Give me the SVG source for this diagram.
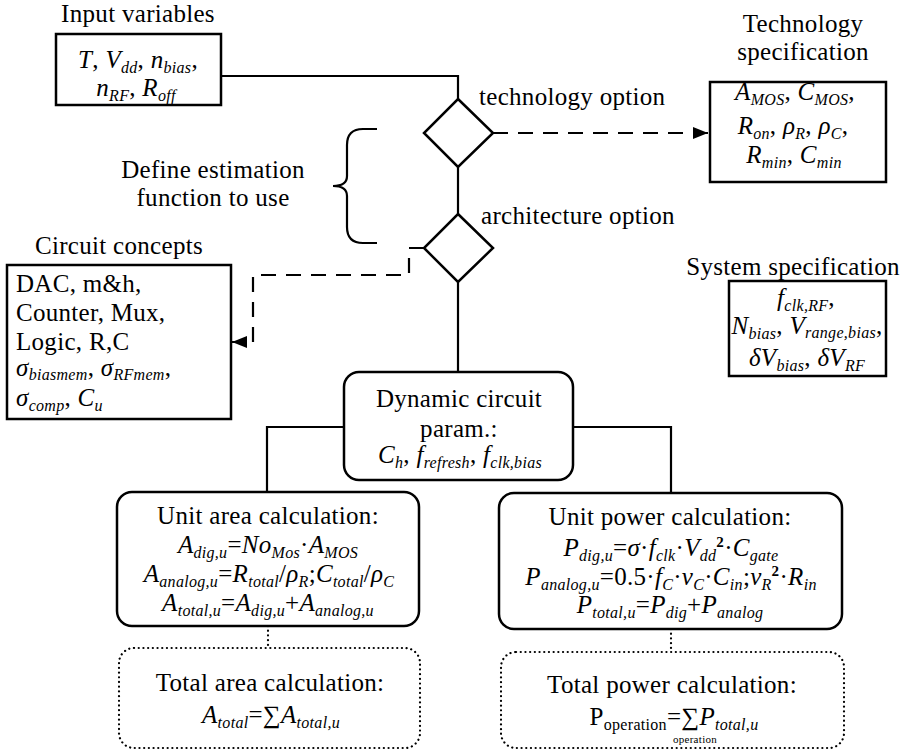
<svg xmlns="http://www.w3.org/2000/svg" width="902" height="751" viewBox="0 0 902 751" font-family="'Times New Roman', 'Liberation Serif', 'DejaVu Serif', 'Noto Serif', serif">
  <defs>
    <style>
      text { font-size: 25px; fill: #000; letter-spacing: 0.3px; }
      .c { text-anchor: middle; }
      .i { font-style: italic; }
      .s { font-size: 16px; }
      .b { font-weight: bold; font-size: 15px; }
      .box { fill: #fff; stroke: #000; stroke-width: 2.5; }
      .dot { fill: none; stroke: #000; stroke-width: 2.2; stroke-dasharray: 0.1 4.6; stroke-linecap: round; }
      .ln { fill: none; stroke: #000; stroke-width: 2.2; }
      .dash { fill: none; stroke: #000; stroke-width: 2.2; stroke-dasharray: 15 10; }
    </style>
    <marker id="arrow" markerUnits="userSpaceOnUse" markerWidth="16" markerHeight="14" refX="15" refY="7" orient="auto">
      <path d="M0,1 L15,7 L0,13 Z" fill="#000"/>
    </marker>
  </defs>

  <!-- connectors -->
  <g id="connectors">
    <polyline class="ln" points="221,76 458,76 458,99"/>
    <line class="ln" x1="458" y1="167" x2="458" y2="214"/>
    <line class="ln" x1="458" y1="282" x2="458" y2="372"/>
    <polyline class="ln" points="344,427 267,427 267,492"/>
    <polyline class="ln" points="573,427 671,427 671,493"/>
    <line class="dash" x1="493" y1="133" x2="708" y2="133" marker-end="url(#arrow)"/>
    <polyline class="dash" points="424,248 409,248 409,275 253,275 253,342 232,342" marker-end="url(#arrow)"/>
    <line class="dot" x1="268" y1="626" x2="268" y2="648"/>
    <line class="dot" x1="671" y1="629" x2="671" y2="652"/>
    <!-- curly brace grouping both option diamonds -->
    <path class="ln" d="M377,129 H363 Q347,129 347,145 V176 Q347,186 333,186 Q347,186 347,196 V227 Q347,243 363,243 H377"/>
  </g>

  <!-- input variables -->
  <g id="input">
    <text class="c" x="138" y="22">Input variables</text>
    <rect class="box" x="56" y="34" width="165" height="71"/>
    <text class="c" x="138" y="68"><tspan class="i">T</tspan>, <tspan class="i">V</tspan><tspan class="i s" dy="5">dd</tspan><tspan dy="-5">, </tspan><tspan class="i">n</tspan><tspan class="i s" dy="5">bias</tspan><tspan dy="-5">,</tspan></text>
    <text class="c" x="136" y="96"><tspan class="i">n</tspan><tspan class="i s" dy="5">RF</tspan><tspan dy="-5">, </tspan><tspan class="i">R</tspan><tspan class="i s" dy="5">off</tspan></text>
  </g>

  <!-- technology option decision -->
  <g id="tech-option">
    <polygon class="box" points="458,99 493,133 458,167 424,133"/>
    <text x="479" y="105">technology option</text>
  </g>

  <!-- architecture option decision -->
  <g id="arch-option">
    <polygon class="box" points="458,214 493,248 458,282 424,248"/>
    <text x="481" y="224">architecture option</text>
  </g>

  <!-- brace label -->
  <g id="estimation">
    <text class="c" x="213" y="178">Define estimation</text>
    <text class="c" x="213" y="206">function to use</text>
  </g>

  <!-- technology specification -->
  <g id="tech-spec">
    <text class="c" x="803" y="32">Technology</text>
    <text class="c" x="803" y="60">specification</text>
    <rect class="box" x="710" y="82" width="176" height="100"/>
    <text class="c" x="795" y="100"><tspan class="i">A</tspan><tspan class="i s" dy="5">MOS</tspan><tspan dy="-5">, </tspan><tspan class="i">C</tspan><tspan class="i s" dy="5">MOS</tspan><tspan dy="-5">,</tspan></text>
    <text class="c" x="793" y="134"><tspan class="i">R</tspan><tspan class="i s" dy="5">on</tspan><tspan dy="-5">, </tspan><tspan class="i">ρ</tspan><tspan class="i s" dy="5">R</tspan><tspan dy="-5">, </tspan><tspan class="i">ρ</tspan><tspan class="i s" dy="5">C</tspan><tspan dy="-5">,</tspan></text>
    <text class="c" x="794" y="163"><tspan class="i">R</tspan><tspan class="i s" dy="5">min</tspan><tspan dy="-5">, </tspan><tspan class="i">C</tspan><tspan class="i s" dy="5">min</tspan></text>
  </g>

  <!-- system specification -->
  <g id="system-spec">
    <text class="c" x="793" y="275">System specification</text>
    <rect class="box" x="729" y="281" width="157" height="95"/>
    <text class="c" x="806" y="306"><tspan class="i">f</tspan><tspan class="i s" dy="5">clk,RF</tspan><tspan dy="-5">,</tspan></text>
    <text class="c" x="807" y="334"><tspan class="i">N</tspan><tspan class="i s" dy="5">bias</tspan><tspan dy="-5">, </tspan><tspan class="i">V</tspan><tspan class="i s" dy="4">range,bias</tspan><tspan dy="-4">,</tspan></text>
    <text class="c" x="807" y="366"><tspan class="i">δV</tspan><tspan class="i s" dy="5">bias</tspan><tspan dy="-5">, </tspan><tspan class="i">δV</tspan><tspan class="i s" dy="5">RF</tspan></text>
  </g>

  <!-- circuit concepts -->
  <g id="circuit-concepts">
    <text class="c" x="119" y="254">Circuit concepts</text>
    <rect class="box" x="7" y="265" width="224" height="154"/>
    <text x="16" y="292">DAC, m&amp;h,</text>
    <text x="16" y="321">Counter, Mux,</text>
    <text x="16" y="350">Logic, R,C</text>
    <text x="16" y="376"><tspan class="i">σ</tspan><tspan class="i s" dy="4">biasmem</tspan><tspan dy="-4">, </tspan><tspan class="i">σ</tspan><tspan class="i s" dy="4">RFmem</tspan><tspan dy="-4">,</tspan></text>
    <text x="16" y="406"><tspan class="i">σ</tspan><tspan class="i s" dy="5">comp</tspan><tspan dy="-5">, </tspan><tspan class="i">C</tspan><tspan class="i s" dy="5">u</tspan></text>
  </g>

  <!-- dynamic circuit parameters -->
  <g id="dynamic">
    <rect class="box" x="344" y="372" width="229" height="108" rx="15"/>
    <text class="c" x="459" y="407">Dynamic circuit</text>
    <text class="c" x="459" y="437">param.:</text>
    <text class="c" x="460" y="463"><tspan class="i">C</tspan><tspan class="i s" dy="5">h</tspan><tspan dy="-5">, </tspan><tspan class="i">f</tspan><tspan class="i s" dy="5">refresh</tspan><tspan dy="-5">, </tspan><tspan class="i">f</tspan><tspan class="i s" dy="5">clk,bias</tspan></text>
  </g>

  <!-- unit area calculation -->
  <g id="unit-area">
    <rect class="box" x="117" y="492" width="302" height="134" rx="15"/>
    <text class="c" x="268" y="524">Unit area calculation:</text>
    <text class="c" x="268" y="553"><tspan class="i">A</tspan><tspan class="i s" dy="5">dig,u</tspan><tspan dy="-5">=</tspan><tspan class="i">No</tspan><tspan class="i s" dy="5">Mos</tspan><tspan dy="-5">·</tspan><tspan class="i">A</tspan><tspan class="i s" dy="5">MOS</tspan></text>
    <text class="c" x="269" y="582"><tspan class="i">A</tspan><tspan class="i s" dy="5">analog,u</tspan><tspan dy="-5">=</tspan><tspan class="i">R</tspan><tspan class="i s" dy="5">total</tspan><tspan dy="-5">/</tspan><tspan class="i">ρ</tspan><tspan class="i s" dy="5">R</tspan><tspan dy="-5">;</tspan><tspan class="i">C</tspan><tspan class="i s" dy="5">total</tspan><tspan dy="-5">/</tspan><tspan class="i">ρ</tspan><tspan class="i s" dy="5">C</tspan></text>
    <text class="c" x="268" y="611"><tspan class="i">A</tspan><tspan class="i s" dy="5">total,u</tspan><tspan dy="-5">=</tspan><tspan class="i">A</tspan><tspan class="i s" dy="5">dig,u</tspan><tspan dy="-5">+</tspan><tspan class="i">A</tspan><tspan class="i s" dy="5">analog,u</tspan></text>
  </g>

  <!-- unit power calculation -->
  <g id="unit-power">
    <rect class="box" x="499" y="493" width="343" height="136" rx="15"/>
    <text class="c" x="670" y="525">Unit power calculation:</text>
    <text class="c" x="671" y="556"><tspan class="i">P</tspan><tspan class="i s" dy="5">dig,u</tspan><tspan dy="-5">=</tspan><tspan class="i">σ</tspan>·<tspan class="i">f</tspan><tspan class="i s" dy="5">clk</tspan><tspan dy="-5">·</tspan><tspan class="i">V</tspan><tspan class="i s" dy="5">dd</tspan><tspan class="b" dy="-14">2</tspan><tspan dy="9">·</tspan><tspan class="i">C</tspan><tspan class="i s" dy="5">gate</tspan></text>
    <text class="c" x="671" y="585"><tspan class="i">P</tspan><tspan class="i s" dy="5">analog,u</tspan><tspan dy="-5">=0.5·</tspan><tspan class="i">f</tspan><tspan class="i s" dy="5">C</tspan><tspan dy="-5">·</tspan><tspan class="i">v</tspan><tspan class="i s" dy="5">C</tspan><tspan dy="-5">·</tspan><tspan class="i">C</tspan><tspan class="i s" dy="5">in</tspan><tspan dy="-5">;</tspan><tspan class="i">v</tspan><tspan class="i s" dy="5">R</tspan><tspan class="b" dy="-14">2</tspan><tspan dy="9">·</tspan><tspan class="i">R</tspan><tspan class="i s" dy="5">in</tspan></text>
    <text class="c" x="670" y="613"><tspan class="i">P</tspan><tspan class="i s" dy="5">total,u</tspan><tspan dy="-5">=</tspan><tspan class="i">P</tspan><tspan class="i s" dy="5">dig</tspan><tspan dy="-5">+</tspan><tspan class="i">P</tspan><tspan class="i s" dy="5">analog</tspan></text>
  </g>

  <!-- total area calculation -->
  <g id="total-area">
    <rect class="dot" x="119" y="648" width="301" height="100" rx="15"/>
    <text class="c" x="270" y="691">Total area calculation:</text>
    <text class="c" x="271" y="723"><tspan class="i">A</tspan><tspan class="i s" dy="5">total</tspan><tspan dy="-5">=∑</tspan><tspan class="i">A</tspan><tspan class="i s" dy="5">total,u</tspan></text>
  </g>

  <!-- total power calculation -->
  <g id="total-power">
    <rect class="dot" x="501" y="652" width="343" height="96" rx="15"/>
    <text class="c" x="672" y="693">Total power calculation:</text>
    <text class="c" x="674" y="725">P<tspan class="s" dy="5">operation</tspan><tspan dy="-5">=∑</tspan><tspan class="i">P</tspan><tspan class="i s" dy="5">total,u</tspan></text>
    <text class="c" x="695" y="743" style="font-size:11px">operation</text>
  </g>
</svg>
